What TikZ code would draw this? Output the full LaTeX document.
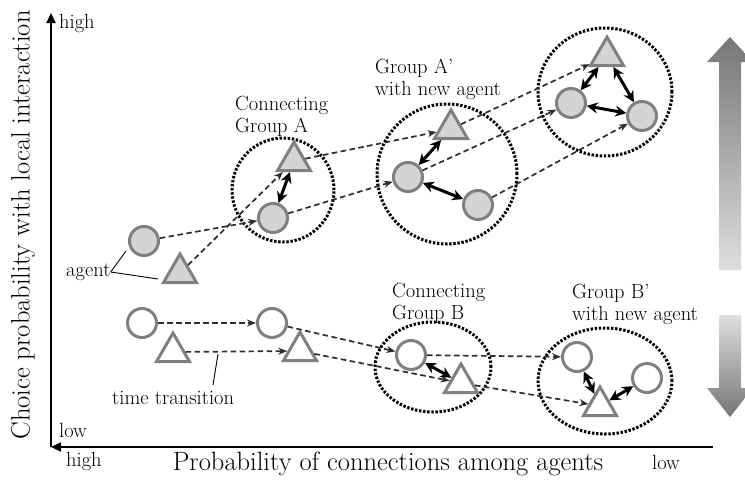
\documentclass[tikz,border=0pt]{standalone}
\usetikzlibrary{shapes.geometric,arrows.meta,calc}
\definecolor{agentgray}{RGB}{128,128,128}
\definecolor{agentfill}{RGB}{212,212,212}
\definecolor{trgray}{RGB}{45,45,45}
\definecolor{shdark}{RGB}{118,118,118}
\definecolor{shlight}{RGB}{222,222,222}
\begin{document}
\begin{tikzpicture}[x=1pt,y=-1pt,
  agentc/.style={circle,draw=agentgray,fill=agentfill,line width=3pt,minimum size=29pt,inner sep=0pt},
  agentt/.style={regular polygon,regular polygon sides=3,draw=agentgray,fill=agentfill,line width=3pt,minimum size=38pt,inner sep=0pt},
  hollowc/.style={agentc,fill=white},
  hollowt/.style={agentt,fill=white},
  grp/.style={draw=black,line width=3pt,dash pattern=on 2.4pt off 1.7pt,inner sep=0pt},
  trans/.style={draw=trgray,line width=1.7pt,dash pattern=on 5.5pt off 3.5pt,-{Stealth[length=9pt,width=7pt]}},
  link/.style={draw=black,line width=3pt,{Stealth[length=11pt,width=11pt]}-{Stealth[length=11pt,width=11pt]}},
  axis/.style={draw=black,line width=2.2pt},
  lbl/.style={inner sep=0pt,font=\fontsize{20.5}{22}\selectfont},
  biglbl/.style={inner sep=0pt,font=\fontsize{26.5}{30}\selectfont},
  pointer/.style={draw=black,line width=0.9pt}
]
\useasboundingbox (0,0) rectangle (745,485);
\clip (0,0) rectangle (745,485);

% gradient arrows
\shade[top color=shdark,bottom color=shlight]
  (719,270) -- (719,62) -- (707,62) -- (730,37) -- (753,62) -- (741,62) -- (741,270) -- cycle;
\shade[top color=shlight,bottom color=shdark]
  (719,315) -- (719,388) -- (707,388) -- (730,417) -- (753,388) -- (741,388) -- (741,315) -- cycle;

% axes
\coordinate (O) at (51,447);
\coordinate (YT) at (51,13);
\coordinate (XE) at (713,447);
\draw[axis,-{Triangle[length=10pt,width=9pt]}] (O) -- (YT);
\draw[axis,-{Triangle[length=10pt,width=9pt]}] (XE) -- (O);
\node[lbl,anchor=west] (yhigh) at (59,23) {high};
\node[lbl,anchor=west] (ylow) at (59,430) {low};
\node[lbl,anchor=west] (xhigh) at (66,461) {high};
\node[lbl,anchor=west] (xlow) at (652,462) {low};
\node[biglbl] (xlab) at (388,464) {Probability of connections among agents};
\node[biglbl,rotate=90] (ylab) at (23,225) {Choice probability with local interaction};

% group outlines
\node[grp,ellipse,minimum width=102pt,minimum height=104pt] (GA) at (283,190) {};
\node[grp,ellipse,minimum width=140pt,minimum height=140pt] (GAp) at (447,174) {};
\node[grp,ellipse,minimum width=134pt,minimum height=128pt] (G3) at (605,92) {};
\node[grp,ellipse,minimum width=116pt,minimum height=90pt] (GB) at (433,367) {};
\node[grp,ellipse,minimum width=134pt,minimum height=106pt] (GBp) at (605,381) {};

% group labels
\node[lbl,anchor=north west,align=left] (tGA) at (235,96) {Connecting\\Group A};
\node[lbl,anchor=north west,align=left] (tGAp) at (375,59) {Group A'\\with new agent};
\node[lbl,anchor=north west,align=left] (tGB) at (392,283) {Connecting\\Group B};
\node[lbl,anchor=north west,align=left] (tGBp) at (572,284) {Group B'\\with new agent};

% upper agents
\node[agentc] (a1c) at (144,241) {};
\node[agentt] (a1t) at (180,273) {};
\node[agentc] (gAc) at (273,218) {};
\node[agentt] (gAt) at (294,161) {};
\node[agentc] (Apl) at (408,177) {};
\node[agentc] (Apr) at (478,205) {};
\node[agentt] (Apt) at (451,129) {};
\node[agentc] (G3l) at (571,103) {};
\node[agentc] (G3r) at (642,116) {};
\node[agentt] (G3t) at (607,56) {};

% lower agents
\node[hollowc] (b1c) at (142,323) {};
\node[hollowt] (b1t) at (173,352) {};
\node[hollowc] (b2c) at (272,323) {};
\node[hollowt] (b2t) at (300,351) {};
\node[hollowc] (gBc) at (411,355) {};
\node[hollowt] (gBt) at (461,383) {};
\node[hollowc] (Bpl) at (577,357) {};
\node[hollowt] (Bpt) at (600,406) {};
\node[hollowc] (Bpr) at (647,378) {};

% transitions (dashed)
\draw[trans] (a1c) -- (gAc);
\draw[trans] (a1t) -- (gAt);
\draw[trans] (gAt) -- (Apt);
\draw[trans] (gAc) -- (Apl);
\draw[trans] (Apt) -- (G3t);
\draw[trans] (Apl) -- (G3l);
\draw[trans] (Apr) -- (G3r);
\draw[trans] (b1c) -- (b2c);
\draw[trans] (b1t) -- (b2t);
\draw[trans] (b2c) -- (gBc);
\draw[trans] (b2t) -- (gBt);
\draw[trans] (gBc) -- (Bpl);
\draw[trans] (gBt) -- (Bpt);

% interactions
\draw[link] (gAc) -- (gAt);
\draw[link] (Apl) -- (Apt);
\draw[link] (Apl) -- (Apr);
\draw[link] (G3l) -- (G3t);
\draw[link] (G3t) -- (G3r);
\draw[link] (G3l) -- (G3r);
\draw[link] (gBc) -- (gBt);
\draw[link] (Bpl) -- (Bpt);
\draw[link] (Bpt) -- (Bpr);

% annotations
\node[lbl,anchor=west] (agent) at (66,272) {agent};
\coordinate (agc) at (126,251);
\coordinate (agt) at (158,279);
\draw[pointer] (agent.east) -- (agc);
\draw[pointer] (agent.east) -- (agt);
\node[lbl,anchor=west] (tt) at (112,398) {time transition};
\coordinate (ttb) at (213,385);
\coordinate (ttp) at (218,354);
\draw[pointer] (ttb) -- (ttp);
\end{tikzpicture}
\end{document}
